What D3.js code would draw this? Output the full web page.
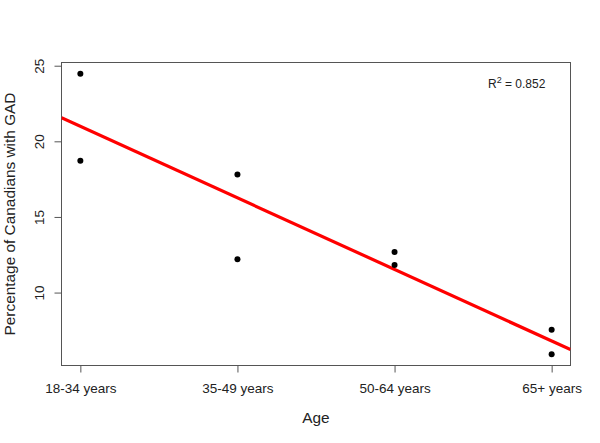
<!DOCTYPE html>
<html><head><meta charset="utf-8">
<script src="https://cdn.jsdelivr.net/npm/d3@7"></script>
<style>body{margin:0;background:#fff;} svg{display:block;font-family:"Liberation Sans",Arial,sans-serif;}</style>
</head><body>
<svg id="c" width="600" height="443"></svg>
<script>
const categories = ["18-34 years","35-49 years","50-64 years","65+ years"];
const groupIndex = [1,1,2,2,3,3,4,4];
const values = [24.47,18.71,17.81,12.2,12.69,11.83,7.54,5.92];
const yTicks = [10,15,20,25];
const r2Label = "0.852";

const svg = d3.select("#c");
const L=61.5,R=570.5,T=62.5,B=365.5;
const ymin=d3.min(values), ymax=d3.max(values), pad=0.04*(ymax-ymin);
const x = d3.scaleLinear().domain([1-0.12,4+0.12]).range([L,R]);
const y = d3.scaleLinear().domain([ymin-pad,ymax+pad]).range([B,T]);
const axisCol="#555";
const ff="Liberation Sans, Arial, sans-serif";

// box
svg.append("rect").attr("x",L).attr("y",T).attr("width",R-L).attr("height",B-T)
  .attr("fill","none").attr("stroke",axisCol).attr("stroke-width",1);

// x axis
const xa = svg.append("g").attr("transform",`translate(0,${B})`)
  .call(d3.axisBottom(x).tickValues([1,2,3,4]).tickFormat(d=>categories[d-1]).tickSize(7).tickPadding(10.5).tickSizeOuter(0));
xa.select(".domain").attr("d",`M${x(1)},0H${x(4)}`).attr("stroke",axisCol);
xa.selectAll(".tick line").attr("stroke",axisCol);
xa.selectAll("text").attr("font-size",13.5).attr("fill","#222").attr("font-family",ff);

// y axis
const ya = svg.append("g").attr("transform",`translate(${L},0)`)
  .call(d3.axisLeft(y).tickValues(yTicks).tickSize(7).tickSizeOuter(0));
ya.select(".domain").attr("d",`M0,${y(10)}V${y(25)}`).attr("stroke",axisCol);
ya.selectAll(".tick line").attr("stroke",axisCol);
ya.selectAll("text").attr("font-size",13.5).attr("fill","#222").attr("font-family",ff)
  .attr("transform","rotate(-90)").attr("x",0).attr("y",-17.5).attr("dy","0").attr("text-anchor","middle");

// regression
const mx=d3.mean(groupIndex), my=d3.mean(values);
let sxy=0,sxx=0; groupIndex.forEach((g,i)=>{sxy+=(g-mx)*(values[i]-my);sxx+=(g-mx)*(g-mx);});
const slope=sxy/sxx, icpt=my-slope*mx;
const x0=x.domain()[0], x1=x.domain()[1];
svg.append("clipPath").attr("id","clip").append("rect").attr("x",L).attr("y",T).attr("width",R-L).attr("height",B-T);
svg.append("line").attr("clip-path","url(#clip)")
  .attr("x1",x(x0)).attr("y1",y(icpt+slope*x0)).attr("x2",x(x1)).attr("y2",y(icpt+slope*x1))
  .attr("stroke","#ff0000").attr("stroke-width",3.2);

// points
svg.selectAll("circle.pt").data(values).enter().append("circle").attr("class","pt")
  .attr("cx",(d,i)=>x(groupIndex[i])).attr("cy",d=>y(d)).attr("r",3).attr("fill","#000");

// R^2
const t = svg.append("text").attr("x",488).attr("y",88).attr("font-size",12).attr("fill","#222");
t.append("tspan").text("R");
t.append("tspan").text("2").attr("font-size",9).attr("dy",-5);
t.append("tspan").text(" = "+r2Label).attr("dy",5);

// axis titles
svg.append("text").attr("x",(L+R)/2).attr("y",423).attr("text-anchor","middle").attr("font-size",15.4).attr("fill","#222").text("Age");
svg.append("text").attr("transform",`translate(15,${(T+B)/2}) rotate(-90)`).attr("text-anchor","middle").attr("font-size",15.4).attr("fill","#222").text("Percentage of Canadians with GAD");
</script>
</body></html>
